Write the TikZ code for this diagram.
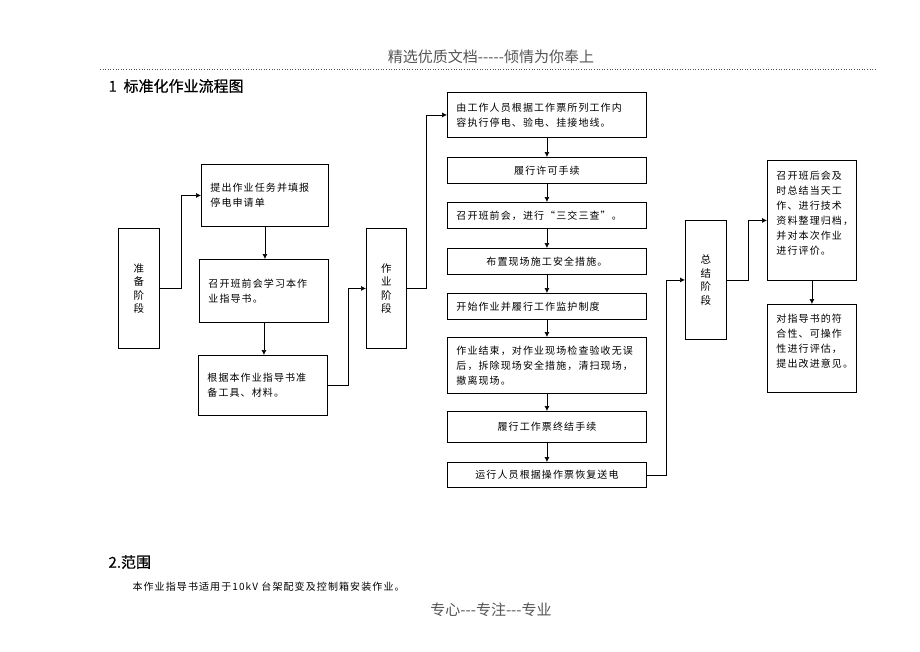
\documentclass[tikz,border=0pt]{standalone}
\usepackage{fontspec}
\setmainfont[Ligatures=TeXOff]{Noto Sans CJK SC}
\newfontfamily\boxfont[LetterSpace=11]{Noto Sans CJK SC}
\newfontfamily\headfont[FakeBold=0.6]{Noto Sans CJK SC}
\usetikzlibrary{arrows.meta,calc}
\definecolor{hdrgray}{HTML}{555555}
\begin{document}
\begin{tikzpicture}[x=1pt,y=-1pt,
  box/.style={draw, line width=0.9pt, anchor=north west, inner xsep=9pt, inner ysep=2pt,
    font=\boxfont\fontsize{10}{15}\selectfont},
  lbox/.style={box, align=left},
  cbox/.style={box, align=center},
  stage/.style={draw, line width=0.9pt, anchor=north west, inner sep=0pt, align=center,
    font=\fontsize{10.5}{13.5}\selectfont},
  link/.style={line width=0.7pt, -{Latex[length=5pt,width=5pt]}},
  pagetxt/.style={text=hdrgray, font=\fontsize{15}{15}\selectfont},
  headtxt/.style={anchor=west, font=\headfont\fontsize{15}{15}\selectfont},
]
\useasboundingbox (0,0) rectangle (920,651);

% header / footer
\node[pagetxt] (hdr) at (491,57) {精选优质文档-{}-{}-{}-{}-倾情为你奉上};
\draw[hdrgray, dotted, line width=0.6pt] (100,69) -- (876,69);
\node[headtxt] (t1) at (105,86) {1\ \ 标准化作业流程图};
\node[headtxt] (t2) at (105,562) {2.范围};
\node[anchor=west, font=\boxfont\fontsize{10}{15}\selectfont] (body) at (129,587) {本作业指导书适用于10kV 台架配变及控制箱安装作业。};
\node[pagetxt] (ftr) at (491,610) {专心-{}-{}-专注-{}-{}-专业};

% preparation stage
\node[stage, minimum width=41pt, minimum height=120pt] (pa) at (118,228) {准\\备\\阶\\段};
\node[lbox, text width=109pt, minimum height=62pt] (a) at (201,164) {提出作业任务并填报\\停电申请单};
\node[lbox, text width=111pt, minimum height=63pt] (b) at (199,259) {召开班前会学习本作\\业指导书。};
\node[lbox, text width=111pt, minimum height=60pt] (c) at (198,355) {根据本作业指导书准\\备工具、材料。};

% work stage
\node[stage, minimum width=40pt, minimum height=120pt] (pb) at (366,228) {作\\业\\阶\\段};
\node[lbox, text width=181pt, minimum height=45pt] (m1) at (447,92) {由工作人员根据工作票所列工作内\\容执行停电、验电、挂接地线。};
\node[cbox, text width=181pt, minimum height=26pt] (m2) at (447,157) {履行许可手续};
\node[lbox, text width=181pt, minimum height=26pt] (m3) at (447,202) {召开班前会，进行“三交三查”。};
\node[cbox, text width=181pt, minimum height=26pt] (m4) at (447,248) {布置现场施工安全措施。};
\node[lbox, text width=181pt, minimum height=26pt] (m5) at (447,293) {开始作业并履行工作监护制度};
\node[lbox, text width=181pt, minimum height=56pt] (m6) at (447,337) {作业结束，对作业现场检查验收无误\\后，拆除现场安全措施，清扫现场，\\撤离现场。};
\node[cbox, text width=181pt, minimum height=31pt] (m7) at (447,411) {履行工作票终结手续};
\node[cbox, text width=181pt, minimum height=25pt] (m8) at (447,462) {运行人员根据操作票恢复送电};

% summary stage
\node[stage, minimum width=41pt, minimum height=119pt] (pc) at (685,220) {总\\结\\阶\\段};
\node[lbox, text width=71pt, minimum height=120pt] (r1) at (767,160) {召开班后会及\\时总结当天工\\作、进行技术\\资料整理归档，\\并对本次作业\\进行评价。\\ \mbox{}};
\node[lbox, text width=71pt, minimum height=88pt] (r2) at (767,304) {对指导书的符\\合性、可操作\\性进行评估，\\提出改进意见。\\ \mbox{}};

% connectors
\draw[link] (pa.east) -- ++(21,0) |- (a.west);
\draw[link] (a.south) -- (a.south |- b.north);
\draw[link] (b.south) -- (b.south |- c.north);
\draw[link] (c.east) -- ++(20,0) |- (pb.west);
\draw[link] (pb.east) -- ++(19,0) |- (m1.west);
\foreach \u/\v in {m1/m2,m2/m3,m3/m4,m4/m5,m5/m6,m6/m7,m7/m8}
  \draw[link] (\u.south) -- (\v.north);
\draw[link] (m8.east) -- ++(19,0) |- (pc.west);
\draw[link] (pc.east) -- ++(21,0) |- (r1.west);
\draw[link] (r1.south) -- (r1.south |- r2.north);
\end{tikzpicture}
\end{document}
